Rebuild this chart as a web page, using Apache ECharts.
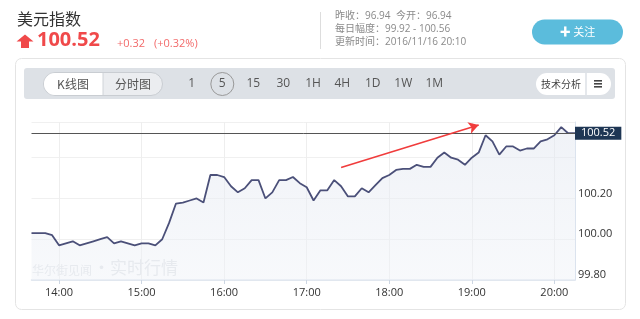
<!DOCTYPE html>
<html>
<head>
<meta charset="utf-8">
<script src="https://cdn.jsdelivr.net/npm/echarts@6/dist/echarts.min.js"></script>
<style>
html,body{margin:0;padding:0;background:#fff;}
#c{width:640px;height:319px;}
</style>
</head>
<body>
<div id="c"></div>
<script>
// ---- data ----
const times = [
'13:40','13:45','13:50','13:55','14:00','14:05','14:10','14:15','14:20','14:25','14:30','14:35',
'14:40','14:45','14:50','14:55','15:00','15:05','15:10','15:15','15:20','15:25','15:30','15:35',
'15:40','15:45','15:50','15:55','16:00','16:05','16:10','16:15','16:20','16:25','16:30','16:35',
'16:40','16:45','16:50','16:55','17:00','17:05','17:10','17:15','17:20','17:25','17:30','17:35',
'17:40','17:45','17:50','17:55','18:00','18:05','18:10','18:15','18:20','18:25','18:30','18:35',
'18:40','18:45','18:50','18:55','19:00','19:05','19:10','19:15','19:20','19:25','19:30','19:35',
'19:40','19:45','19:50','19:55','20:00','20:05','20:10','20:15'
];
const prices = [
100.03,100.03,100.03,100.02,99.97,99.98,99.99,99.97,99.98,99.99,100.00,100.01,
99.98,99.99,99.98,99.97,99.98,99.98,99.97,100.00,100.08,100.175,100.18,100.19,
100.20,100.18,100.315,100.315,100.305,100.26,100.23,100.25,100.29,100.29,100.20,100.23,
100.29,100.29,100.305,100.275,100.255,100.19,100.24,100.24,100.29,100.26,100.21,100.21,
100.25,100.23,100.265,100.30,100.315,100.34,100.345,100.345,100.365,100.355,100.355,100.40,
100.425,100.40,100.39,100.365,100.40,100.425,100.51,100.48,100.415,100.455,100.455,100.435,
100.445,100.445,100.48,100.49,100.51,100.55,100.52,100.52
];
const yTicks = [99.80, 100.00, 100.20];
const lastPrice = 100.52;
const arrowFrom = [44.8, 100.352];
const arrowTo = [65.3, 100.56];

const title = '美元指数';
const changeAbs = '+0.32';
const changePct = '(+0.32%)';
const infoLines = ['昨收：96.94', '今开：96.94', '每日幅度：99.92 - 100.56', '更新时间：2016/11/16 20:10'];
const periods = [['1',191.7],['5',222.3],['15',253.3],['30',283.3],['1H',313],['4H',342.3],['1D',372.7],['1W',403.3],['1M',434.3]];

const FONT = '"Open Sans","Noto Sans CJK SC",sans-serif';
const chart = echarts.init(document.getElementById('c'), null, {renderer:'canvas'});

const hourOnly = (i, v) => String(v).endsWith(':00');

const graphics = [
  // card
  {type:'rect', shape:{x:15.5,y:58.5,width:610,height:251,r:6}, style:{fill:'#fff',stroke:'#e4e4e4',lineWidth:1}, z:-10},
  // header title
  {type:'text', left:17, top:11, style:{text:title, font:'16px "Noto Sans CJK SC",sans-serif', fill:'#333'}},
  // red arrow up
  {type:'polygon', shape:{points:[[25,34.5],[33.5,41.5],[29,41.5],[29,48],[21,48],[21,41.5],[16.5,41.5]]}, style:{fill:'#f0494a'}},
  {type:'text', left:37, top:30, style:{text:'100.52', font:'bold 20px '+FONT, fill:'#f0494a'}},
  {type:'text', left:117, top:38, style:{text:changeAbs, font:'11px '+FONT, fill:'#f26a6a'}},
  {type:'text', left:154, top:38, style:{text:changePct, font:'11px '+FONT, fill:'#f26a6a'}},
  // divider
  {type:'line', shape:{x1:320.5,y1:12,x2:320.5,y2:49}, style:{stroke:'#ddd',lineWidth:1}},
  {type:'text', left:335, top:11, style:{text:infoLines[0], font:'10px '+FONT, fill:'#8a8a8a'}},
  {type:'text', left:396, top:11, style:{text:infoLines[1], font:'10px '+FONT, fill:'#8a8a8a'}},
  {type:'text', left:335, top:24.5, style:{text:infoLines[2], font:'10px '+FONT, fill:'#8a8a8a'}},
  {type:'text', left:335, top:37, style:{text:infoLines[3], font:'10px '+FONT, fill:'#8a8a8a'}},
  // follow button
  {type:'rect', shape:{x:532,y:19.5,width:91,height:25,r:12.5}, style:{fill:'#5bbcdc'}},
  {type:'text', x:577.5, y:32, style:{text:'✚ 关注', font:'11px "Noto Sans CJK SC",sans-serif', fill:'#fff', align:'center', verticalAlign:'middle'}},
  // toolbar
  {type:'rect', shape:{x:24,y:68,width:591,height:31,r:3}, style:{fill:'#dde1e6'}},
  {type:'rect', shape:{x:43.5,y:72.5,width:119,height:23,r:11.5}, style:{fill:'#ebedf0',stroke:'#c9cdd2',lineWidth:1}},
  {type:'rect', shape:{x:44,y:73,width:59,height:22,r:[11,0,0,11]}, style:{fill:'#fff'}},
  {type:'line', shape:{x1:103,y1:73,x2:103,y2:95}, style:{stroke:'#d0d4d8',lineWidth:1}},
  {type:'text', x:73, y:84, style:{text:'K线图', font:'12px "Noto Sans CJK SC",sans-serif', fill:'#555', align:'center', verticalAlign:'middle'}},
  {type:'text', x:133, y:84, style:{text:'分时图', font:'12px "Noto Sans CJK SC",sans-serif', fill:'#555', align:'center', verticalAlign:'middle'}},
  {type:'circle', shape:{cx:222.3,cy:84,r:11.5}, style:{fill:'none',stroke:'#999',lineWidth:1}},
  // analysis pill
  {type:'rect', shape:{x:536,y:73,width:75,height:22,r:11}, style:{fill:'#fff'}},
  {type:'line', shape:{x1:586,y1:73,x2:586,y2:95}, style:{stroke:'#dde1e6',lineWidth:1.5}},
  {type:'text', x:561, y:84, style:{text:'技术分析', font:'10px "Noto Sans CJK SC",sans-serif', fill:'#444', align:'center', verticalAlign:'middle'}},
  {type:'rect', shape:{x:594,y:80,width:8,height:1.6}, style:{fill:'#444'}},
  {type:'rect', shape:{x:594,y:83,width:8,height:1.6}, style:{fill:'#444'}},
  {type:'rect', shape:{x:594,y:86,width:8,height:1.6}, style:{fill:'#444'}},
  // watermark
  {type:'text', left:32, top:264, z:1, style:{text:'华尔街见闻', font:'12px "Noto Sans CJK SC",sans-serif', fill:'#dfe2e6'}},
  {type:'text', left:93, top:259, z:1, style:{text:'·实时行情', font:'17px "Noto Sans CJK SC",sans-serif', fill:'#dfe2e6'}}
];
periods.forEach(p => graphics.push({type:'text', x:p[1], y:84, style:{text:p[0], font:'12px '+FONT, fill:'#555', align:'center', verticalAlign:'middle'}}));

chart.setOption({
  animation:false,
  grid:{left:31.5, right:65, top:122, bottom:39},
  graphic: graphics,
  xAxis:{
    type:'category', data:times, boundaryGap:false,
    axisLine:{lineStyle:{color:'#dbe3ee',width:1.5}},
    axisTick:{show:true, interval:hourOnly, length:4, lineStyle:{color:'#cdd6e2'}},
    axisLabel:{interval:hourOnly, color:'#333', fontSize:11, fontFamily:FONT, margin:7},
    splitLine:{show:true, interval:hourOnly, lineStyle:{color:'#eeeeee'}}
  },
  yAxis:{
    type:'value', position:'right', min:99.8, max:100.575, interval:0.2,
    axisLine:{show:true, lineStyle:{color:'#dbe3ee',width:1}},
    axisTick:{show:false},
    axisLabel:{
      color:'#333', fontSize:11, fontFamily:FONT, margin:3, verticalAlign:'bottom', lineHeight:10,
      formatter: v => yTicks.some(t => Math.abs(t - v) < 1e-6) ? v.toFixed(2) : ''
    },
    splitLine:{lineStyle:{color:'#f0f0f0'}}
  },
  series:[{
    type:'line', data:prices, symbol:'none', smooth:false,
    lineStyle:{color:'#4b5079', width:1.8},
    areaStyle:{color:new echarts.graphic.LinearGradient(0,0,0,1,[{offset:0,color:'rgba(226,231,240,0.75)'},{offset:1,color:'rgba(240,243,248,0.7)'}])},
    markLine:{
      silent:true, animation:false, symbol:['none','none'],
      data:[
        {yAxis:lastPrice, lineStyle:{color:'#555',width:1,type:'solid'},
          label:{show:true, position:'end', distance:0, formatter:lastPrice.toFixed(2), color:'#fff', backgroundColor:'#1e3654', padding:[1,6,0,6], fontSize:11, fontFamily:FONT, lineHeight:12}},
        [{coord:arrowFrom, symbol:'none', lineStyle:{color:'#f03c3c',width:1.6,type:'solid'}, label:{show:false}},
         {coord:arrowTo, symbol:'arrow', symbolSize:[9,10]}]
      ]
    }
  }]
});
</script>
</body>
</html>
